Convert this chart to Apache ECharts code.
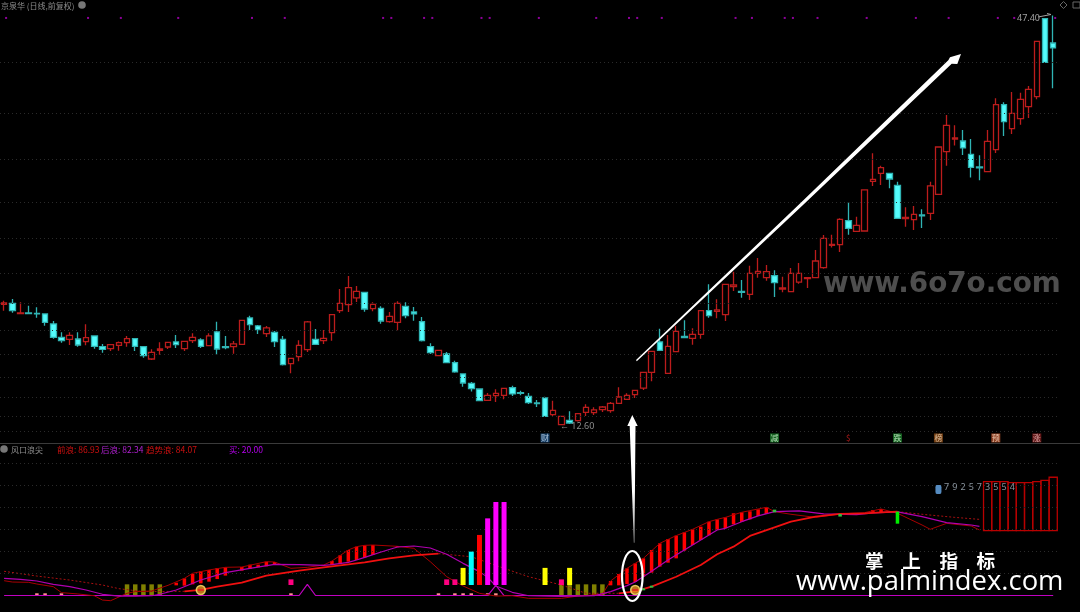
<!DOCTYPE html>
<html><head><meta charset="utf-8">
<style>html,body{margin:0;padding:0;background:#000}#c{width:1080px;height:612px}</style>
<script src="https://cdn.jsdelivr.net/npm/echarts@6/dist/echarts.min.js"></script>
</head><body><div id="c"></div>
<script>
// ---- price panel data: [open, close, low, high]
const ohlcRows = [
[22.86,22.97,22.32,23.17],[22.94,22.32,22.15,23.31],[22.06,22.12,22.04,23.03],[22.12,22.06,22.01,22.74],[22.09,22.04,21.72,22.60],
[22.04,21.33,21.04,22.09],[21.19,20.05,19.94,21.44],[20.05,19.77,19.60,20.48],[19.88,20.22,19.40,20.48],[19.91,19.40,19.26,20.48],
[19.69,20.02,19.37,21.16],[20.17,19.29,19.09,20.19],[19.26,19.03,18.75,19.49],[19.09,19.43,18.89,19.49],[19.37,19.60,18.92,19.69],
[19.60,19.94,19.26,20.17],[19.94,19.29,18.89,19.97],[19.26,18.49,18.32,19.32],[18.21,18.78,18.13,19.03],[18.95,19.06,18.58,19.63],
[19.23,19.63,19.06,19.66],[19.66,19.43,19.15,20.25],[19.09,19.71,18.89,19.74],[19.77,20.05,19.57,20.39],[19.83,19.29,19.15,19.97],
[19.34,20.17,19.32,20.39],[20.51,19.06,18.58,21.38],[19.26,19.17,19.03,20.17],[19.26,19.49,18.66,19.74],[19.46,21.50,19.40,21.50],
[21.70,21.13,20.68,21.89],[21.02,20.71,20.34,21.10],[20.36,20.85,20.08,21.02],[20.48,19.69,19.23,20.59],[19.88,17.73,17.65,20.17],
[17.81,18.27,16.99,18.29],[18.41,19.37,18.01,19.80],[19.00,21.36,18.81,21.44],[19.88,19.46,19.40,20.76],[19.77,19.97,19.49,20.68],
[20.45,21.98,19.77,22.04],[22.32,22.94,22.12,24.16],[22.83,24.27,22.21,25.26],[23.40,23.96,23.05,24.42],[23.88,22.46,22.23,23.88],
[22.49,22.86,22.26,23.03],[22.52,21.44,21.21,22.69],[21.38,21.84,21.30,22.21],[21.33,22.94,20.65,23.11],[22.69,21.89,21.67,23.03],
[22.21,22.04,21.47,22.63],[21.38,19.77,19.70,21.78],[19.26,18.75,18.64,19.54],[18.49,18.95,18.47,18.95],[18.64,17.90,17.87,18.81],
[17.90,17.11,17.05,18.07],[16.94,16.17,15.86,16.94],[16.14,15.69,15.44,16.26],[15.66,14.67,14.64,15.69],[14.69,15.12,14.64,15.32],
[15.09,15.29,14.56,15.63],[15.12,15.72,14.78,15.72],[15.77,15.24,15.07,15.94],[15.35,15.29,15.12,15.52],[15.04,14.50,14.39,15.32],
[14.47,14.41,14.13,14.72],[14.90,13.34,13.28,15.01],[13.48,13.85,13.37,14.67],[12.63,13.34,12.60,13.37],[13.00,12.77,12.69,13.76],
[12.97,13.56,12.89,13.62],[13.68,14.10,13.37,14.36],[13.65,13.88,13.45,14.10],[13.90,14.13,13.71,14.21],[13.82,14.44,13.65,14.56],
[14.44,14.98,14.41,15.80],[14.78,15.12,14.72,15.29],[15.18,15.55,14.90,15.58],[15.74,17.08,15.58,17.08],[17.08,18.86,16.31,18.89],
[19.66,18.95,18.90,20.79],[16.99,19.29,16.96,20.25],[18.84,20.56,18.78,21.04],[20.14,20.02,19.97,21.50],[19.97,20.31,19.43,20.82],
[20.31,22.32,19.94,22.35],[22.32,21.89,21.72,24.56],[22.26,22.38,21.67,23.28],[21.98,24.56,21.44,24.56],[24.36,24.50,23.99,25.63],
[23.96,23.88,23.42,24.93],[23.71,25.49,23.23,26.14],[25.49,25.66,25.12,26.80],[25.12,25.63,24.87,26.20],[25.29,24.70,23.49,25.75],
[24.16,24.25,23.88,25.21],[23.94,25.49,23.91,25.95],[24.75,25.49,24.61,26.37],[25.04,25.12,24.25,25.14],[25.12,26.54,25.10,27.48],
[25.97,28.47,25.89,28.75],[27.87,27.96,27.68,28.78],[27.93,30.08,27.31,30.17],[29.97,29.32,28.78,31.56],[29.06,29.57,29.03,30.31],
[29.09,32.58,29.06,32.58],[33.31,33.48,32.92,35.69],[33.99,34.47,33.00,34.64],[33.99,33.51,32.72,34.00],[32.97,30.17,30.14,33.28],
[30.14,30.25,29.46,31.10],[30.06,30.51,29.18,31.22],[30.45,30.37,29.35,30.93],[30.59,32.92,30.03,33.28],[32.21,36.23,32.15,36.23],
[35.84,38.07,34.64,38.95],[36.91,37.00,36.35,38.07],[36.74,36.15,35.55,37.68],[35.61,34.50,33.63,36.91],[34.53,34.45,33.40,35.52],
[34.14,36.71,34.08,37.68],[36.00,39.83,35.72,40.37],[39.83,38.38,37.17,40.03],[37.79,39.09,37.34,40.91],[38.64,40.28,38.13,40.85],
[39.66,41.13,38.70,41.42],[40.51,45.21,40.28,45.21],[47.14,43.43,43.40,47.16],[45.07,44.65,41.22,47.40]];
const barCategories = ohlcRows.map((_, i) => 'D' + (i + 1));
const priceGridLevels = [43.46,39.12,35.21,31.55,28.49,25.52,22.97,20.67,18.64,16.68,14.98,13.37,12.09];
const topDotBars = [0,10,14,21,30,34,46,47,51,52,58,59,65,72,76,77,80,89,91,95,96,99,105,111,115,121,123,128];
const topDotPrice = 47.2;
const eventBars = [66,94,103,109,114,121,126];
const eventTexts = ['财','减','$','跌','榜','预','涨'];
const eventPrice = 11.5;

// ---- indicator panel data: [bar, value]
const qianLang = [[0,13.4],[1,12.2],[3,11.9],[4,10.4],[6,8.0],[7,2.6],[9,1.4],[11,-0.2],[12,-4.1],[13,-4.7],[15,2.0],[16,3.5],[18,4.1],[20,9.2],[22,15.5],[23,20.1],[25,23.1],[27,25.5],[29,25.8],[32,30.6],[33,30.3],[35,24.6],[37,25.5],[39,27.6],[40,31.2],[42,41.2],[43,44.2],[44,45.4],[45,45.7],[48,44.5],[50,42.7],[52,30.6],[54,17.0],[56,8.6],[58,2.0],[60,-0.5],[62,-0.2],[64,-2.6],[68,-2.6],[70,-0.5],[73,1.1],[74,13.1],[76,24.6],[78,33.6],[80,47.2],[82,54.2],[84,59.9],[86,66.8],[87,68.9],[88,70.7],[90,75.3],[93,79.8],[94,75.9],[96,73.5],[99,70.7],[102,73.8],[105,75.0],[107,78.3],[109,74.4],[112,63.8],[113,59.9],[115,65.3],[118,62.9],[119,59.3]];
const houLang = [[0,15.5],[2,14.6],[4,13.1],[6,10.1],[8,8.0],[10,5.0],[12,1.1],[14,-0.5],[16,-0.5],[18,-0.2],[19,1.1],[21,5.0],[24,14.0],[27,20.7],[30,24.6],[33,28.2],[36,27.9],[39,27.3],[40,27.9],[42,30.0],[43,32.1],[44,34.5],[46,39.4],[48,43.9],[50,44.8],[52,43.0],[54,37.3],[56,29.1],[58,21.6],[59,16.4],[60,8.6],[62,2.9],[64,-0.2],[68,-0.8],[72,-0.2],[74,3.5],[76,8.9],[77,12.2],[79,21.9],[81,32.1],[83,41.2],[85,50.2],[87,59.3],[88,60.8],[90,66.8],[92,72.0],[94,75.9],[97,76.5],[100,73.8],[104,73.2],[106,74.7],[109,75.6],[112,71.4],[115,65.9],[118,63.8],[119,62.6]];
const trendSolidA = [[22,3.8],[24,5.0],[26,8.0],[29,11.6],[32,18.0],[36,22.5],[39,25.5],[42,28.2],[44,30.0],[47,33.6],[50,36.4],[53,37.9]];
const trendSolidB = [[75,2.0],[77,3.8],[79,8.0],[82,17.0],[85,27.6],[87,37.3],[89,44.2],[91,53.9],[94,61.7],[96,66.8],[99,71.4],[102,73.8],[105,74.4],[107,75.3],[109,75.9]];
const trendDottedA = [[0,21.9],[4,17.6],[8,14.0],[12,9.5],[14,6.2],[17,3.5],[22,3.8]];
const trendDottedB = [[53,37.9],[57,35.1],[61,24.6],[64,17.0],[68,9.5],[71,2.0],[75,2.0]];
const trendDottedC = [[109,75.9],[112,73.5],[116,70.7],[119,68.9]];
const buyLine = [[0,0],[36,0],[37,10],[38,0],[59,0],[60,9.2],[61,0],[128,0]];
// hatched ribbon: [bar, low, high]
const ribbonBars = [[21,9.2,11.6],[22,8.9,15.5],[23,10.1,19.5],[24,11.0,21.9],[25,12.5,23.1],[26,14.9,24.9],[27,18.0,25.5],[29,22.5,25.8],[30,24.0,27.9],[31,25.5,27.9],[32,26.4,30.6],[33,27.6,30.3],[40,27.6,31.2],[41,28.5,36.4],[42,30.6,41.2],[43,32.1,44.2],[44,34.5,45.4],[45,36.7,45.7],[48,43.6,44.8],[74,9.2,13.1],[75,9.2,19.5],[76,10.4,24.6],[77,12.2,29.1],[78,17.0,33.6],[79,20.7,41.2],[80,26.1,47.2],[81,29.7,51.1],[82,33.6,54.2],[83,40.6,57.2],[84,45.7,59.9],[85,50.2,62.3],[86,54.5,66.8],[87,59.3,68.9],[88,60.8,70.7],[89,64.4,74.4],[90,66.5,75.3],[91,68.9,76.2],[92,72.0,78.0],[93,73.8,79.8],[106,75.0,77.4],[107,75.3,78.3]];
// signal bars: [bar, low, high]
const pinkBars = [[35,9.5,14.6],[54,9.5,14.6],[55,9.5,14.6],[68,9.5,14.6]];
const yellowBars = [[56,9.5,25],[66,9.5,25],[69,9.5,25]];
const cyanBars = [[57,9.5,39.7]];
const redBars = [[58,9.5,54.8]];
const magentaBars = [[59,9.5,69.8],[60,9.5,84.6],[61,9.5,84.6]];
const oliveBars = [[15,0,10.1],[16,0,10.1],[17,0,10.1],[18,0,10.1],[19,0,10.1],[68,0,9.5],[69,0,9.5],[70,0,10.1],[71,0,10.1],[72,0,10.1],[73,0,10.1]];
const salmonBars = [[4,0,2],[5,0,2],[7,0,2],[35,0,2],[53,0,2],[55,0,2],[56,0,2],[57,0,2],[59,0,2],[60,0,2]];
const greenSmallBars = [[78,4.7,6.5],[79,7.1,8.9],[94,75.3,77.7],[102,71.4,73.8]];
const greenTallBars = [[109,65.0,75.9]];
const hollowBars = [[120,58.7,103],[121,58.7,103],[122,58.7,103],[123,58.7,102.1],[124,58.7,102.1],[125,58.7,102.1],[126,58.7,103],[127,58.7,104.2],[128,58.7,107]];
const sunBars = [[24,5],[77,5]];
const indicatorGridLevels = [20,40,60,80,100,120];
const countBars = [115,116,117,118,119,120,121,122,123];
const countDigits = ['7','9','2','5','7','3','5','5','4'];
const countLevel = 98.2;
const countIcon = [[114,96]];

const eventColors = ['#1d4f80','#1c7a2a','#000000','#1c7a2a','#8a4a14','#b0502a','#7a1c1c'];
const eventTextColors = ['#cfe2f5','#d0f5d0','#e02020','#d0f5d0','#f5dcc0','#f8dcc8','#f0c0c0'];
const CJK = '"Noto Sans CJK SC","Noto Sans",sans-serif';

function floating(data, color, width, name, z) {
  return { type: 'custom', name, xAxisIndex: 1, yAxisIndex: 1, z: z || 2, silent: true, data,
    encode: { x: 0, y: [1, 2] },
    renderItem(params, api) {
      const a = api.coord([api.value(0), api.value(1)]);
      const b = api.coord([api.value(0), api.value(2)]);
      return { type: 'rect', shape: { x: a[0] - width / 2, y: b[1], width, height: a[1] - b[1] },
        style: { fill: color } };
    } };
}
function lineSeries(data, color, width, name, type, z) {
  return { type: 'line', name, xAxisIndex: 1, yAxisIndex: 1, data, showSymbol: false, silent: true, z: z || 4,
    lineStyle: { color, width, type: type || 'solid' }, itemStyle: { color } };
}
function gridSeries(levels, axis) {
  return { type: 'line', xAxisIndex: axis, yAxisIndex: axis, data: [], z: 0, silent: true,
    markLine: { silent: true, symbol: 'none', label: { show: false }, animation: false,
      lineStyle: { color: '#2a2a2a', width: 1, type: [1, 3] },
      data: levels.map(v => ({ yAxis: v })) } };
}
function hdr(text, x, y, fill, size) {
  return { type: 'text', x, y, silent: true, z: 20,
    style: { text, fill, font: (size || 8.5) + 'px ' + CJK, verticalAlign: 'middle', align: 'left' } };
}

const chart = echarts.init(document.getElementById('c'), null, { renderer: 'canvas' });
chart.setOption({
  animation: false,
  backgroundColor: '#000',
  tooltip: { show: false },
  grid: [
    { left: -1.8, width: 1059.09, top: 0, height: 443 },
    { left: -1.8, width: 1059.09, top: 444, height: 168 }
  ],
  xAxis: [
    { type: 'category', gridIndex: 0, data: barCategories, show: false },
    { type: 'category', gridIndex: 1, data: barCategories, show: false }
  ],
  yAxis: [
    { type: 'value', gridIndex: 0, min: 11.07, max: 48.725, show: false },
    { type: 'value', gridIndex: 1, min: -14.93, max: 137.1, show: false }
  ],
  series: [
    gridSeries(priceGridLevels, 0),
    gridSeries(indicatorGridLevels, 1),
    { type: 'candlestick', name: 'K线', xAxisIndex: 0, yAxisIndex: 0, data: ohlcRows, barWidth: 6, z: 3, silent: true,
      itemStyle: { color: '#000000', color0: '#54fcfc', borderColor: '#bc1c1c', borderColor0: '#2fb4b4', borderWidth: 1.3 } },
    { type: 'scatter', name: '标记', xAxisIndex: 0, yAxisIndex: 0, silent: true, z: 3,
      data: topDotBars.map(i => [i, topDotPrice]), symbol: 'rect', symbolSize: 2, symbolOffset: [2, 0],
      itemStyle: { color: '#b000c0' } },
    { type: 'scatter', name: '事件', xAxisIndex: 0, yAxisIndex: 0, silent: true, z: 5,
      data: eventBars.map((i, k) => ({ value: [i, eventPrice],
        itemStyle: { color: eventColors[k] },
        label: { formatter: eventTexts[k], color: eventTextColors[k] } })),
      symbol: 'rect', symbolSize: 9,
      label: { show: true, position: 'inside', fontSize: 8, fontFamily: CJK } },

    floating(oliveBars, '#808000', 4.5, 'oliveBars', 2),
    floating(pinkBars, '#ff0080', 5, 'pinkBars', 6),
    floating(yellowBars, '#ffff00', 5, 'yellowBars', 6),
    floating(cyanBars, '#00ffff', 5, 'cyanBars', 6),
    floating(redBars, '#ff0000', 5, 'redBars', 6),
    floating(magentaBars, '#ff00ff', 5, 'magentaBars', 6),
    floating(salmonBars, '#ff9090', 3.5, 'salmonBars', 3),
    floating(ribbonBars, '#ff0000', 3.5, 'ribbonBars', 3),
    floating(greenSmallBars, '#30c040', 3.5, 'greenSmallBars', 6),
    floating(greenTallBars, '#00ee00', 3.5, 'greenTallBars', 6),
    { type: 'custom', name: 'hollowBars', xAxisIndex: 1, yAxisIndex: 1, z: 4, silent: true, data: hollowBars,
      encode: { x: 0, y: [1, 2] },
      renderItem(params, api) {
        const a = api.coord([api.value(0), api.value(1)]);
        const b = api.coord([api.value(0), api.value(2)]);
        const w = api.size([1, 0])[0];
        return { type: 'rect', shape: { x: a[0] - w / 2, y: b[1], width: w, height: a[1] - b[1] },
          style: { fill: 'none', stroke: '#b80000', lineWidth: 1.3 } };
      } },
    lineSeries(buyLine, '#c000c0', 1.2, '买'),
    lineSeries(trendDottedA, '#a81010', 1, '趋势浪虚线', [2, 2]),
    lineSeries(trendDottedB, '#a81010', 1, '趋势浪虚线', [2, 2]),
    lineSeries(trendDottedC, '#a81010', 1, '趋势浪虚线', [2, 2]),
    lineSeries(qianLang, '#a80000', 1, '前浪', null, 5),
    lineSeries(houLang, '#b000b0', 1.2, '后浪', null, 5),
    lineSeries(trendSolidA, '#f01010', 1.8, '趋势浪', null, 5),
    lineSeries(trendSolidB, '#f01010', 1.8, '趋势浪', null, 5),
    { type: 'scatter', name: '信号', xAxisIndex: 1, yAxisIndex: 1, silent: true, z: 7, data: sunBars,
      symbol: 'circle', symbolSize: 9,
      itemStyle: { color: '#e89020', borderColor: '#ffe670', borderWidth: 1.5 } },
    { type: 'scatter', name: '信号芯', xAxisIndex: 1, yAxisIndex: 1, silent: true, z: 8, data: sunBars,
      symbol: 'rect', symbolSize: [6, 2], itemStyle: { color: '#e02020' } },
    { type: 'scatter', name: '计数图标', xAxisIndex: 1, yAxisIndex: 1, silent: true, z: 8, data: countIcon,
      symbol: 'roundRect', symbolSize: [6, 9], itemStyle: { color: '#6aaef0' } },
    { type: 'scatter', name: '计数', xAxisIndex: 1, yAxisIndex: 1, silent: true, z: 8,
      data: countBars.map(i => [i, countLevel]), symbolSize: 1, itemStyle: { color: 'transparent' },
      label: { show: true, position: 'inside', color: '#a8b4c0', fontSize: 9, fontFamily: '"Noto Sans",sans-serif',
        formatter: p => countDigits[p.dataIndex] } }
  ],
  graphic: [
    // panel furniture and captions
    { type: 'line', shape: { x1: 0, y1: 443.5, x2: 1080, y2: 443.5 }, style: { stroke: '#3a3a3a', lineWidth: 1 }, silent: true, z: 10 },
    hdr('京泉华 (日线,前复权)', 1, 5.5, '#8c8c8c', 8),
    { type: 'circle', shape: { cx: 82, cy: 5, r: 3.8 }, style: { fill: '#777' }, silent: true, z: 20 },
    { type: 'polygon', shape: { points: [[1060, 5], [1063.5, 1.5], [1067, 5], [1063.5, 8.5]] }, style: { fill: 'none', stroke: '#666', lineWidth: 1 }, silent: true, z: 20 },
    { type: 'rect', shape: { x: 1073, y: 2, width: 7, height: 6 }, style: { fill: 'none', stroke: '#666', lineWidth: 1 }, silent: true, z: 20 },
    { type: 'circle', shape: { cx: 4, cy: 449, r: 3.8 }, style: { fill: '#777' }, silent: true, z: 20 },
    hdr('风口浪尖', 11, 449.5, '#8c8c8c', 8),
    hdr('前浪: 86.93', 57, 449.5, '#d01010'),
    hdr('后浪: 82.34', 101, 449.5, '#b020d0'),
    hdr('趋势浪: 84.07', 146, 449.5, '#d01010'),
    hdr('买: 20.00', 229, 449.5, '#b800f0'),
    { type: 'text', x: 1017, y: 18, silent: true, z: 20, style: { text: '47.40', fill: '#a0a0a0', font: '9px "Noto Sans",sans-serif', verticalAlign: 'middle' } },
    { type: 'polyline', shape: { points: [[1038, 17], [1051, 14.5], [1047, 13.5]] }, style: { stroke: '#a0a0a0', lineWidth: 1, fill: 'none' }, silent: true, z: 20 },
    { type: 'text', x: 560, y: 426.5, silent: true, z: 20, style: { text: '← 12.60', fill: '#8c8c8c', font: '9px "Noto Sans",sans-serif', verticalAlign: 'middle' } },
    // hand-drawn annotations
    { type: 'polygon', silent: true, z: 15, shape: { points: [[636, 360], [800, 203.5], [948.3, 60.2], [950, 57.3], [961, 54], [957.3, 64], [951.7, 63.8], [802.2, 205.8], [636.8, 361.2]] }, style: { fill: '#ffffff' } },
    { type: 'polygon', silent: true, z: 15, shape: { points: [[632.3, 415], [637.7, 426], [635.5, 426], [634.5, 542.7], [633.8, 542.7], [629.7, 426], [627.3, 426]] },
      style: { fill: { type: 'linear', x: 0, y: 0, x2: 0, y2: 1, colorStops: [{ offset: 0, color: '#ffffff' }, { offset: 0.6, color: '#ffffff' }, { offset: 1, color: '#909090' }] } } },
    { type: 'ellipse', silent: true, z: 15, shape: { cx: 632.3, cy: 576, rx: 10.3, ry: 25 }, style: { fill: 'none', stroke: '#ffffff', lineWidth: 2.2 } },
    // watermarks
    { type: 'text', x: 823, y: 285, silent: true, z: 12, style: { text: 'www.6o7o.com', fill: '#4e4e4e', font: 'bold 27.8px "DejaVu Sans",sans-serif', verticalAlign: 'middle' } },
    { type: 'text', x: 865, y: 561, silent: true, z: 16, style: { text: '掌\u3000上\u3000指\u3000标', fill: '#ffffff', font: 'bold 18.6px ' + CJK, verticalAlign: 'middle' } },
    { type: 'text', x: 796, y: 582, silent: true, z: 16, style: { text: 'www.palmindex.com', fill: '#ffffff', font: '27.4px "Open Sans",sans-serif', verticalAlign: 'middle' } }
  ]
});
</script></body></html>
